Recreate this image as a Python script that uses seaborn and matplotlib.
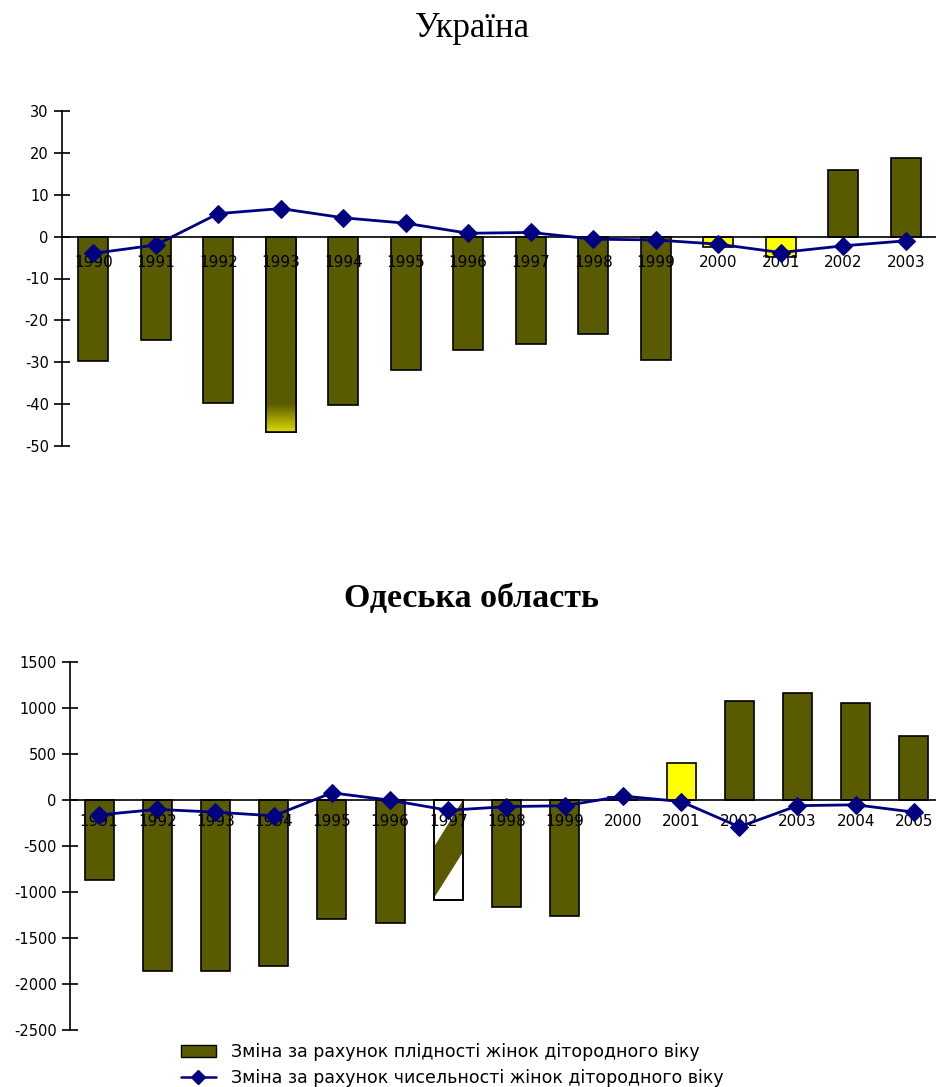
import numpy as np
import pandas as pd
import matplotlib
matplotlib.use("Agg")
import matplotlib.pyplot as plt
import seaborn as sns
from matplotlib.patches import Polygon, Patch, Rectangle
from matplotlib.lines import Line2D
from matplotlib.colors import LinearSegmentedColormap

# ---------------- data ----------------
ua_years = [str(y) for y in range(1990, 2004)]
ua_fertility = [-29.7, -24.6, -39.8, -46.6, -40.2, -31.8, -27.0, -25.6, -23.2, -29.4,
                -2.4, -4.8, 15.9, 18.8]
ua_women = [-4.0, -2.0, 5.5, 6.7, 4.5, 3.2, 0.8, 1.0, -0.6, -0.8, -1.8, -3.8, -2.2, -1.0]
ua_yticks = [-50, -40, -30, -20, -10, 0, 10, 20, 30]

od_years = [str(y) for y in range(1991, 2006)]
od_fertility = [-870, -1860, -1860, -1800, -1290, -1340, -1090, -1160, -1260,
                40, 400, 1080, 1170, 1060, 700]
od_women = [-160, -100, -130, -170, 80, 0, -110, -70, -60, 45, -15, -290, -60, -50, -130]
od_yticks = [-2500, -2000, -1500, -1000, -500, 0, 500, 1000, 1500]

title_ua = "Україна"
title_od = "Одеська область"
legend_labels = ["Зміна за рахунок плідності жінок дітородного віку",
                 "Зміна за рахунок чисельності жінок дітородного віку"]

# bar fill styles: o = olive, y = yellow, g = olive with yellow fade, b = white with olive band
ua_styles = ["o", "o", "o", "g", "o", "o", "o", "o", "o", "o", "y", "y", "o", "o"]
od_styles = ["o", "o", "o", "o", "o", "o", "b", "o", "o", "o", "y", "o", "o", "o", "o"]

OLIVE = "#5A5A00"
YELLOW = "#FFFF00"
NAVY = "#000080"

sns.set_style("white")
plt.rcParams["font.family"] = ["DejaVu Sans"]
plt.rcParams["axes.unicode_minus"] = False
for k in ["text.color", "xtick.color", "ytick.color", "axes.labelcolor", "axes.edgecolor"]:
    plt.rcParams[k] = "black"

W, H = 937, 1087
fig = plt.figure(figsize=(W / 100, H / 100), dpi=100)


def draw(ax, years, fert, women, styles, ylim, yticks, width, label_pad):
    n = len(years)
    df = pd.DataFrame({"year": years, "fert": fert, "women": women, "pos": np.arange(n)})
    pal = {}
    for y, s in zip(years, styles):
        pal[y] = YELLOW if s == "y" else ("white" if s == "b" else OLIVE)
    sns.barplot(data=df, x="year", y="fert", hue="year", palette=pal, legend=False,
                width=width, edgecolor="black", linewidth=1.2, saturation=1,
                ax=ax, zorder=2)
    bars = [p for p in ax.patches if isinstance(p, Rectangle)][:n]
    for p, s in zip(bars, styles):
        x0, w, h = p.get_x(), p.get_width(), p.get_height()
        if s == "g":
            cmap = LinearSegmentedColormap.from_list(
                "fade", [(0, OLIVE), (0.86, OLIVE), (1.0, "#D8D800")])
            grad = np.linspace(0, 1, 200).reshape(-1, 1)
            im = ax.imshow(grad, cmap=cmap, aspect="auto", extent=[x0, x0 + w, h, 0],
                           origin="upper", zorder=2.05)
            im.set_clip_path(p)
            ax.add_patch(Rectangle((x0, 0), w, h, fill=False, edgecolor="black",
                                   lw=1.2, zorder=2.2))
        elif s == "b":
            band = Polygon([(x0, 0.47 * h), (x0 + w, 0), (x0 + w, 0.52 * h), (x0, 0.98 * h)],
                           closed=True, facecolor=OLIVE, edgecolor="none", zorder=2.05)
            ax.add_patch(band)
            band.set_clip_path(p)
            ax.add_patch(Rectangle((x0, 0), w, h, fill=False, edgecolor="black",
                                   lw=1.2, zorder=2.2))
    sns.lineplot(data=df, x="pos", y="women", color=NAVY, marker="D", markersize=9,
                 markeredgecolor=NAVY, linewidth=2.0, ax=ax, zorder=4, clip_on=False)

    ax.set_axisbelow(False)
    ax.set_xlim(-0.5, n - 0.5)
    ax.set_ylim(*ylim)
    ax.set_xlabel("")
    ax.set_ylabel("")
    for s in ["top", "right"]:
        ax.spines[s].set_visible(False)
    ax.spines["bottom"].set_position(("data", 0))
    ax.spines["bottom"].set_zorder(3)
    for s in ["bottom", "left"]:
        ax.spines[s].set_color("black")
        ax.spines[s].set_linewidth(1.2)
    ax.set_xticks(np.arange(n + 1) - 0.5)
    ax.set_xticklabels([])
    ax.set_xticks(np.arange(n), minor=True)
    ax.set_xticklabels(years, minor=True, fontsize=11)
    ax.tick_params(axis="x", which="major", direction="inout", length=7, width=1.2,
                   color="black")
    ax.tick_params(axis="x", which="minor", length=0, pad=label_pad, labelcolor="black")
    ax.set_yticks(yticks)
    ax.set_yticklabels([str(v) for v in yticks], fontsize=10.5)
    ax.tick_params(axis="y", direction="inout", length=11, width=1.2, color="black",
                   pad=4, left=True, labelcolor="black")
    ax.grid(False)


# top chart
ax1 = fig.add_axes([62 / W, 1 - 446 / H, (W - 62) / W, (446 - 111) / H])
draw(ax1, ua_years, ua_fertility, ua_women, ua_styles, (-50, 30), ua_yticks, 0.48, 13)

# bottom chart
ax2 = fig.add_axes([70 / W, 1 - 1030 / H, 873 / W, (1030 - 662.3) / H])
draw(ax2, od_years, od_fertility, od_women, od_styles, (-2500, 1500), od_yticks, 0.5, 10)

fig.text(472 / W, 1 - 37 / H, title_ua, ha="center", va="baseline",
         family=["Liberation Serif"], fontsize=25, color="black")
fig.text(472 / W, 1 - 607 / H, title_od, ha="center", va="baseline",
         family=["Liberation Serif"], fontsize=24.5, fontweight="bold", color="black")

handles = [Patch(facecolor=OLIVE, edgecolor="black", linewidth=1.0),
           Line2D([], [], color=NAVY, marker="D", markersize=7, lw=1.8)]
fig.legend(handles=handles, labels=legend_labels, loc="upper left",
           bbox_to_anchor=(181 / W, 1 - 1043 / H), frameon=False, fontsize=12.5,
           handlelength=2.0, handletextpad=0.9, labelspacing=0.45,
           borderaxespad=0, borderpad=0)

fig.savefig("out.png", dpi=100)
